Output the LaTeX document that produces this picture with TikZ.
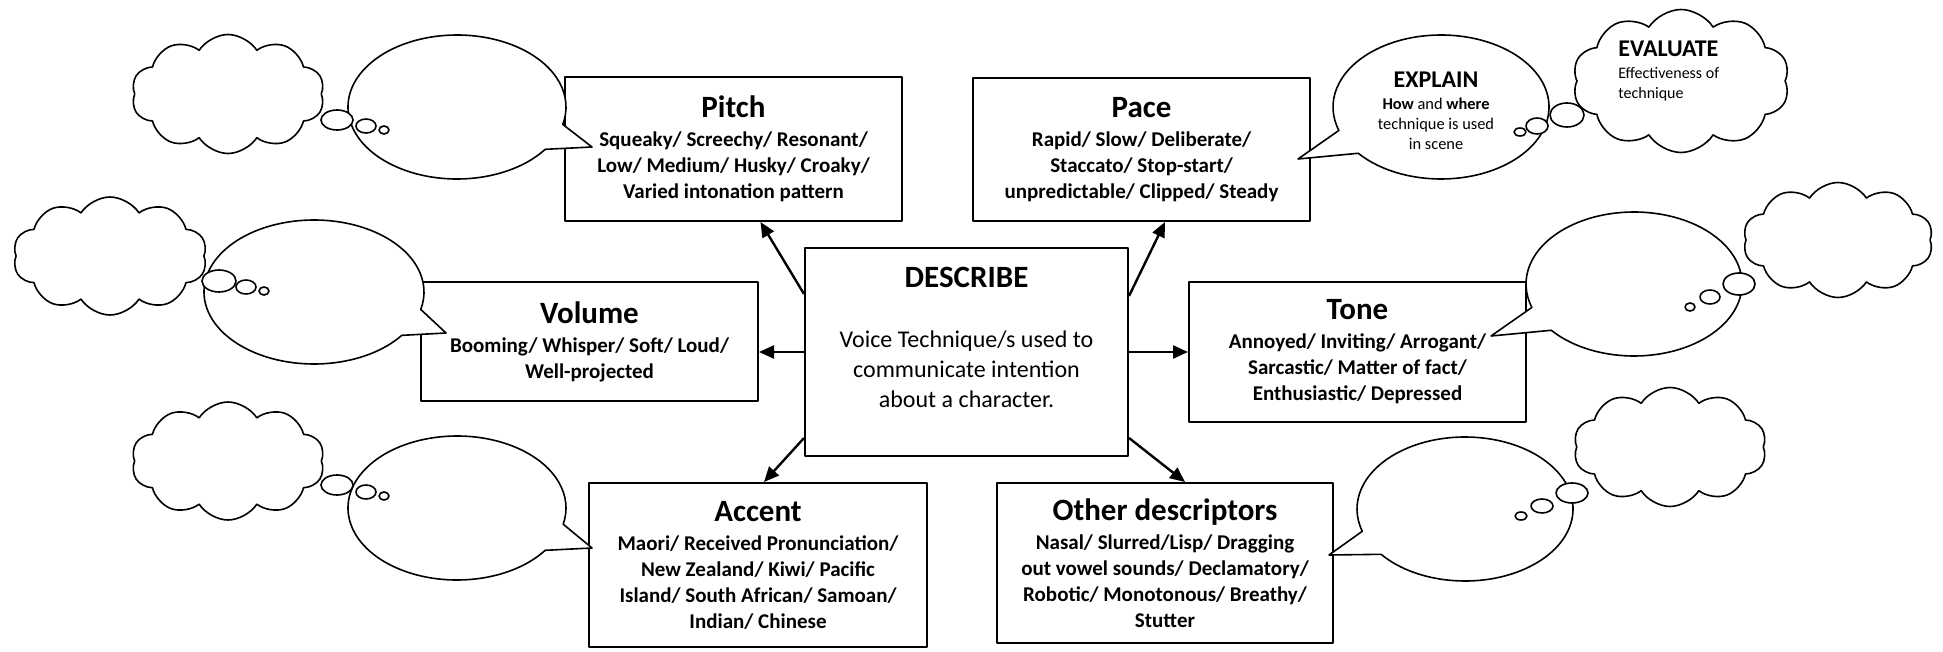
\documentclass[tikz,border=0pt]{standalone}
\usepackage{fontspec}
\setmainfont{Carlito}
\usetikzlibrary{arrows.meta,calc,shapes.symbols}

\tikzset{
  box/.style={draw, line width=1pt, fill=white, align=center, inner sep=0pt,
    font=\bfseries\fontsize{10.5}{13}\selectfont},
  link/.style={-{Triangle[length=7.5pt,width=6.5pt]}, line width=1.2pt},
  bubble/.style={draw, fill=white, line width=0.8pt},
  puff/.style={cloud, cloud puffs=10, cloud puff arc=115, cloud ignores aspect,
    draw, fill=white, line width=0.8pt, inner sep=0pt},
}
\newcommand{\boxtitle}[1]{{\fontsize{15.5}{17}\selectfont #1}}

\begin{document}
\begin{tikzpicture}[x=0.5pt, y=-0.5pt, line join=round]
    \useasboundingbox (0,0) rectangle (1943,652);

    % --- Centre box ---
    \node[box, minimum width=161.5pt, minimum height=104pt,
      font=\fontsize{12}{15}\selectfont] (describe) at (966.5,352)
      {{\bfseries\fontsize{15.5}{17}\selectfont DESCRIBE}\\[15pt]
       Voice Technique/s used to\\ communicate intention\\
       about a character.\rule[-15pt]{0pt}{0pt}};

    % --- Technique boxes ---
    \node[box, minimum width=168.5pt, minimum height=72pt] (pitch) at (733.5,149)
      {\boxtitle{Pitch}\\[1.5pt] Squeaky/ Screechy/ Resonant/\\ Low/ Medium/ Husky/ Croaky/\\ Varied intonation pattern};
    \node[box, minimum width=168.5pt, minimum height=71.5pt] (pace) at (1141.5,149.5)
      {\boxtitle{Pace}\\[1.5pt] Rapid/ Slow/ Deliberate/\\ Staccato/ Stop-start/\\ unpredictable/ Clipped/ Steady};
    \node[box, minimum width=168.5pt, minimum height=59.5pt] (volume) at (589.5,341.5)
      {\boxtitle{Volume}\\[1.5pt] Booming/ Whisper/ Soft/ Loud/\\ Well-projected};
    \node[box, minimum width=168.5pt, minimum height=70pt] (tone) at (1357.5,352)
      {\boxtitle{Tone}\\[1.5pt] Annoyed/ Inviting/ Arrogant/\\ Sarcastic/ Matter of fact/\\ Enthusiastic/ Depressed};
    \node[box, minimum width=169pt, minimum height=82pt] (accent) at (758,565)
      {\boxtitle{Accent}\\[1.5pt] Maori/ Received Pronunciation/\\ New Zealand/ Kiwi/ Pacific\\ Island/ South African/ Samoan/\\ Indian/ Chinese};
    \node[box, minimum width=168pt, minimum height=80pt] (other) at (1165,563)
      {\boxtitle{Other descriptors}\\[1.5pt] Nasal/ Slurred/Lisp/ Dragging\\ out vowel sounds/ Declamatory/\\ Robotic/ Monotonous/ Breathy/\\ Stutter};

    % --- Arrows out of the centre box ---
    \draw[link] ($(describe.north west)+(0,47)$) -- ($(pitch.south)+(27,0)$);
    \draw[link] ($(describe.north east)+(0,49)$) -- ($(pace.south)+(23.5,0)$);
    \draw[link] (describe.west) -- (describe.west -| volume.east);
    \draw[link] (describe.east) -- (describe.east -| tone.west);
    \draw[link] ($(describe.south west)+(0,-19)$) -- ($(accent.north)+(6,0)$);
    \draw[link] ($(describe.south east)+(0,-19)$) -- ($(other.north)+(20,0)$);

    % --- Left: speech bubbles with thought clouds ---
    % pitch
    \draw[bubble] ($(457,107)+(14:109 and 72)$) -- (592,147) -- ($(457,107)+(36:109 and 72)$)
      arc[start angle=36, end angle=374, x radius=109, y radius=72] -- cycle;
    \node[puff, minimum width=96.5pt, minimum height=59.5pt] (pitchcloud) at (228,94) {};
    \draw[bubble] (337,120) ellipse[x radius=16, y radius=10];
    \draw[bubble] (366,126) ellipse[x radius=10, y radius=7];
    \draw[bubble] (384,130) ellipse[x radius=5, y radius=4];

    % volume
    \draw[bubble] ($(314,292)+(14:110 and 72)$) -- (446,333) -- ($(314,292)+(37:110 and 72)$)
      arc[start angle=37, end angle=374, x radius=110, y radius=72] -- cycle;
    \node[puff, minimum width=97pt, minimum height=59pt] (volumecloud) at (110,256) {};
    \draw[bubble] (219,281) ellipse[x radius=17, y radius=11];
    \draw[bubble] (246,287) ellipse[x radius=10, y radius=7];
    \draw[bubble] (264,291) ellipse[x radius=5, y radius=4];

    % accent
    \draw[bubble] ($(457,508)+(13:109 and 72)$) -- (592,548) -- ($(457,508)+(36:109 and 72)$)
      arc[start angle=36, end angle=373, x radius=109, y radius=72] -- cycle;
    \node[puff, minimum width=96.5pt, minimum height=59pt] (accentcloud) at (228,461) {};
    \draw[bubble] (337,485) ellipse[x radius=16, y radius=10];
    \draw[bubble] (366,492) ellipse[x radius=10, y radius=7];
    \draw[bubble] (384,496) ellipse[x radius=5, y radius=4];

    % --- Right: speech bubbles with thought clouds ---
    % pace (explain / evaluate)
    \draw[bubble] ($(1441,107)+(161:108 and 72)$) -- (1298,159) -- ($(1441,107)+(140:108 and 72)$)
      arc[start angle=140, end angle=-199, x radius=108, y radius=72] -- cycle;
    \node[puff, minimum width=108.5pt, minimum height=71.5pt] (pacecloud) at (1681,81) {};
    \draw[bubble] (1567,115) ellipse[x radius=17, y radius=12];
    \draw[bubble] (1537,126) ellipse[x radius=11, y radius=8];
    \draw[bubble] (1520,132) ellipse[x radius=6, y radius=4];
    \node[font=\fontsize{8.2}{10}\selectfont, align=center] (explain) at (1436,111)
      {{\bfseries\fontsize{12}{13}\selectfont EXPLAIN}\\[1pt]
       \textbf{How} and \textbf{where}\\ technique is used\\ in scene};
    \node[font=\fontsize{8}{10}\selectfont, align=left, anchor=west, inner sep=0pt] (evaluate) at (1618,71)
      {{\bfseries\fontsize{12}{13}\selectfont EVALUATE}\\[1pt]
       Effectiveness of\\ technique};

    % tone
    \draw[bubble] ($(1634,284)+(161:108 and 72)$) -- (1491,336) -- ($(1634,284)+(140:108 and 72)$)
      arc[start angle=140, end angle=-199, x radius=108, y radius=72] -- cycle;
    \node[puff, minimum width=95pt, minimum height=57.5pt] (tonecloud) at (1838,240) {};
    \draw[bubble] (1739,284) ellipse[x radius=16, y radius=11];
    \draw[bubble] (1710,297) ellipse[x radius=10, y radius=7];
    \draw[bubble] (1690,307) ellipse[x radius=5, y radius=4];

    % other descriptors
    \draw[bubble] ($(1465,509)+(162:108 and 72)$) -- (1329,555) -- ($(1465,509)+(141:108 and 72)$)
      arc[start angle=141, end angle=-198, x radius=108, y radius=72] -- cycle;
    \node[puff, minimum width=96.5pt, minimum height=59.5pt] (othercloud) at (1670,447) {};
    \draw[bubble] (1572,493) ellipse[x radius=16, y radius=10];
    \draw[bubble] (1542,506) ellipse[x radius=11, y radius=7];
    \draw[bubble] (1521,516) ellipse[x radius=6, y radius=4];

\end{tikzpicture}
\end{document}
